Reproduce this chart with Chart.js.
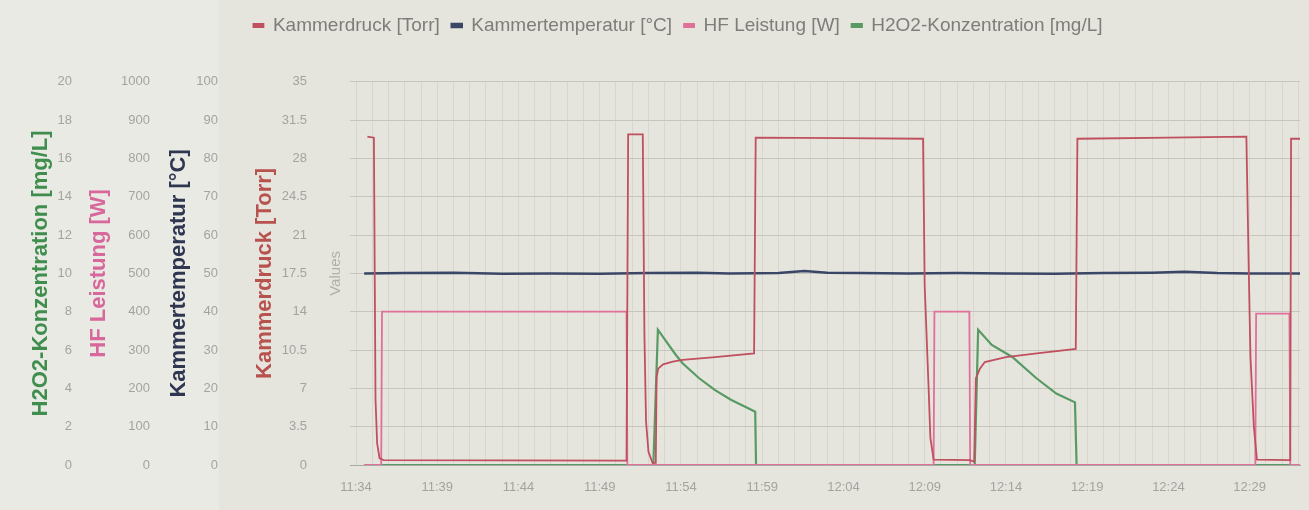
<!DOCTYPE html>
<html>
<head>
<meta charset="utf-8">
<script src="https://cdn.jsdelivr.net/npm/chart.js@4.4.1/dist/chart.umd.min.js"></script>
<style>
  html, body { margin: 0; padding: 0; background: #e6e5de; }
  #wrap { width: 1309px; height: 510px; position: relative; }
</style>
</head>
<body>
<div id="wrap"><canvas id="c" width="1309" height="510"></canvas></div>
<script>
// ---- time axis (minutes after 11:34) ----
const startHour = 11, startMinute = 34;
const xTickStep = 5;
const xRange = { min: -0.37, max: 58.1 };

// ---- Kammerdruck [Torr] ----
const pressureTime = [0.7, 1.1, 1.2, 1.3, 1.45, 1.7, 16.65, 16.75, 17.65, 17.75, 17.85, 18.0, 18.25, 18.45, 18.5, 18.6, 18.9, 19.5, 20.1, 22.1, 24.5, 24.6, 30.0, 34.9, 35.0, 35.25, 35.35, 35.55, 37.8, 38.05, 38.15, 38.4, 38.7, 40.0, 41.9, 44.3, 44.4, 50.0, 54.8, 54.95, 55.05, 55.26, 55.45, 57.5, 57.55, 58.1];
const pressureValue = [30.0, 29.9, 6.0, 2.0, 0.6, 0.45, 0.4, 30.2, 30.2, 12.0, 4.0, 1.2, 0.2, 0.2, 8.0, 8.8, 9.2, 9.45, 9.6, 9.85, 10.2, 29.9, 29.85, 29.8, 16.4, 6.7, 2.5, 0.5, 0.45, 0.3, 7.9, 8.8, 9.4, 9.85, 10.2, 10.6, 29.8, 29.9, 30.0, 17.5, 9.9, 3.5, 0.5, 0.45, 29.8, 29.8];

// ---- Kammertemperatur [°C] ----
const tempTime = [0.5, 3, 6, 9, 12, 15, 18, 21, 23, 26, 27.6, 29, 31, 34, 37, 40, 43, 46, 49, 51, 53, 55, 58.1];
const tempValue = [50.0, 50.1, 50.2, 49.9, 50.0, 49.9, 50.1, 50.2, 50.0, 50.1, 50.6, 50.2, 50.1, 50.0, 50.1, 50.0, 49.9, 50.1, 50.2, 50.4, 50.1, 50.0, 50.0];

// ---- HF Leistung [W] ----
const hfTime = [0.5, 1.55, 1.6, 16.65, 16.7, 35.55, 35.6, 37.75, 37.8, 55.35, 55.4, 57.45, 57.5, 58.1];
const hfValue = [0, 0, 400, 400, 0, 0, 400, 400, 0, 0, 395, 395, 0, 0];

// ---- H2O2-Konzentration [mg/L] ----
const h2o2Time = [0.5, 18.3, 18.58, 19.09, 19.7, 20.1, 21.1, 22.1, 23.1, 24.17, 24.57, 24.62, 38.08, 38.29, 39.13, 40.39, 41.86, 43.1, 44.25, 44.35, 58.1];
const h2o2Value = [0, 0, 7.06, 6.45, 5.73, 5.31, 4.54, 3.91, 3.39, 2.95, 2.78, 0, 0, 7.06, 6.27, 5.64, 4.54, 3.73, 3.27, 0, 0];

// ---- axis tick settings ----
const pressureAxis = { min: 0, max: 35, step: 3.5 };
const tempAxis = { min: 0, max: 100, step: 10 };
const hfAxis = { min: 0, max: 1000, step: 100 };
const h2o2Axis = { min: 0, max: 20, step: 2 };

const seriesNames = ['Kammerdruck [Torr]', 'Kammertemperatur [°C]', 'HF Leistung [W]', 'H2O2-Konzentration [mg/L]'];

function pairs(t, v) { return t.map((x, i) => ({ x: x, y: v[i] })); }
function fmtTime(m) {
  const total = startHour * 60 + startMinute + m;
  const h = Math.floor(total / 60), mm = Math.round(total % 60);
  return h + ':' + (mm < 10 ? '0' : '') + mm;
}
function plainNum(v) { return String(Math.round(v * 10) / 10); }

const FONT = "'Liberation Sans', Arial, sans-serif";
const tickColor = '#a3a3a0';
const tickFont = { family: FONT, size: 13 };

const bgPlugin = {
  id: 'bg',
  beforeDraw(chart) {
    const ctx = chart.ctx;
    ctx.save();
    ctx.fillStyle = '#e5e4dd';
    ctx.fillRect(0, 0, chart.width, chart.height);
    ctx.fillStyle = '#eaeae5';
    ctx.fillRect(0, 0, 219, chart.height);
    ctx.restore();
  }
};

// legend in the reference sits a little right of the canvas centre
const legendShift = {
  id: 'legendShift',
  afterLayout(chart) {
    if (chart.legend) { chart.legend.left += 28; chart.legend.right += 28; }
  }
};

function fixWidth(w) { return function (s) { s.width = w; }; }

new Chart(document.getElementById('c'), {
  type: 'line',
  data: {
    datasets: [
      { label: seriesNames[0], data: pairs(pressureTime, pressureValue), yAxisID: 'yP', borderColor: '#c0505f', backgroundColor: '#c0505f', borderWidth: 1.8 },
      { label: seriesNames[1], data: pairs(tempTime, tempValue), yAxisID: 'yT', borderColor: '#3a4665', backgroundColor: '#3a4665', borderWidth: 2.5 },
      { label: seriesNames[2], data: pairs(hfTime, hfValue), yAxisID: 'yH', borderColor: '#e0709a', backgroundColor: '#e0709a', borderWidth: 1.8 },
      { label: seriesNames[3], data: pairs(h2o2Time, h2o2Value), yAxisID: 'yG', borderColor: '#579a63', backgroundColor: '#579a63', borderWidth: 2.2 }
    ]
  },
  plugins: [bgPlugin, legendShift],
  options: {
    responsive: false,
    animation: false,
    events: [],
    elements: { point: { radius: 0 }, line: { tension: 0 } },
    layout: { padding: { left: 0, right: 9, top: 4, bottom: 0 } },
    plugins: {
      legend: {
        position: 'top',
        align: 'center',
        labels: {
          font: { family: FONT, size: 19 },
          color: '#7d7d7a',
          boxWidth: 10,
          boxHeight: 3,
          padding: 12
        }
      },
      title: { display: true, text: '', position: 'top', weight: 500, padding: { top: 0, bottom: 14 }, font: { size: 19 } },
      tooltip: { enabled: false }
    },
    scales: {
      x: {
        type: 'linear',
        min: xRange.min,
        max: xRange.max,
        ticks: {
          stepSize: 1,
          autoSkip: false,
          maxRotation: 0,
          padding: 15,
          color: tickColor,
          font: tickFont,
          callback: v => (Math.abs(v % xTickStep) < 1e-9 ? fmtTime(v) : '')
        },
        afterBuildTicks: ax => {
          const out = [];
          for (let m = Math.ceil(xRange.min); m <= Math.floor(xRange.max); m++) out.push({ value: m });
          ax.ticks = out;
        },
        afterFit: s => { s.height = 45; s.paddingRight = 0; },
        grid: { color: '#d7d7d0', drawTicks: false },
        border: { color: '#aaaaa4' }
      },
      yV: {
        type: 'linear', position: 'left', weight: 0,
        min: pressureAxis.min, max: pressureAxis.max,
        ticks: { display: false },
        grid: { display: false, drawTicks: false },
        border: { display: false },
        title: { display: true, text: 'Values', color: '#b0b0ad', font: { family: FONT, size: 15 }, padding: { top: 7, bottom: 0 } },
        afterFit: fixWidth(30)
      },
      yP: {
        type: 'linear', position: 'left', weight: 1,
        min: pressureAxis.min, max: pressureAxis.max,
        ticks: { stepSize: pressureAxis.step, color: tickColor, padding: 13, font: tickFont, callback: plainNum },
        grid: { color: '#c6c6bf', drawTicks: false },
        border: { display: false },
        title: { display: true, text: 'Kammerdruck [Torr]', color: '#b8524f', font: { family: FONT, size: 22, weight: 'bold' }, padding: { top: 30, bottom: 0 } },
        afterFit: fixWidth(98)
      },
      yT: {
        type: 'linear', position: 'left', weight: 2,
        min: tempAxis.min, max: tempAxis.max,
        ticks: { stepSize: tempAxis.step, color: tickColor, padding: 4, font: tickFont, callback: plainNum },
        grid: { display: false, drawTicks: false },
        border: { display: false },
        title: { display: true, text: 'Kammertemperatur [°C]', color: '#2e3650', font: { family: FONT, size: 22, weight: 'bold' }, padding: { top: 11, bottom: 0 } },
        afterFit: fixWidth(67)
      },
      yH: {
        type: 'linear', position: 'left', weight: 3,
        min: hfAxis.min, max: hfAxis.max,
        ticks: { stepSize: hfAxis.step, color: tickColor, padding: 5, font: tickFont, callback: plainNum },
        grid: { display: false, drawTicks: false },
        border: { display: false },
        title: { display: true, text: 'HF Leistung [W]', color: '#d8689c', font: { family: FONT, size: 22, weight: 'bold' }, padding: { top: 4, bottom: 0 } },
        afterFit: fixWidth(73)
      },
      yG: {
        type: 'linear', position: 'left', weight: 4,
        min: h2o2Axis.min, max: h2o2Axis.max,
        ticks: { stepSize: h2o2Axis.step, color: tickColor, padding: 10, font: tickFont, callback: plainNum },
        grid: { display: false, drawTicks: false },
        border: { display: false },
        title: { display: true, text: 'H2O2-Konzentration [mg/L]', color: '#3f8e4e', font: { family: FONT, size: 22, weight: 'bold' }, padding: { top: 28, bottom: 0 } },
        afterFit: fixWidth(82)
      }
    }
  }
});
</script>
</body>
</html>
